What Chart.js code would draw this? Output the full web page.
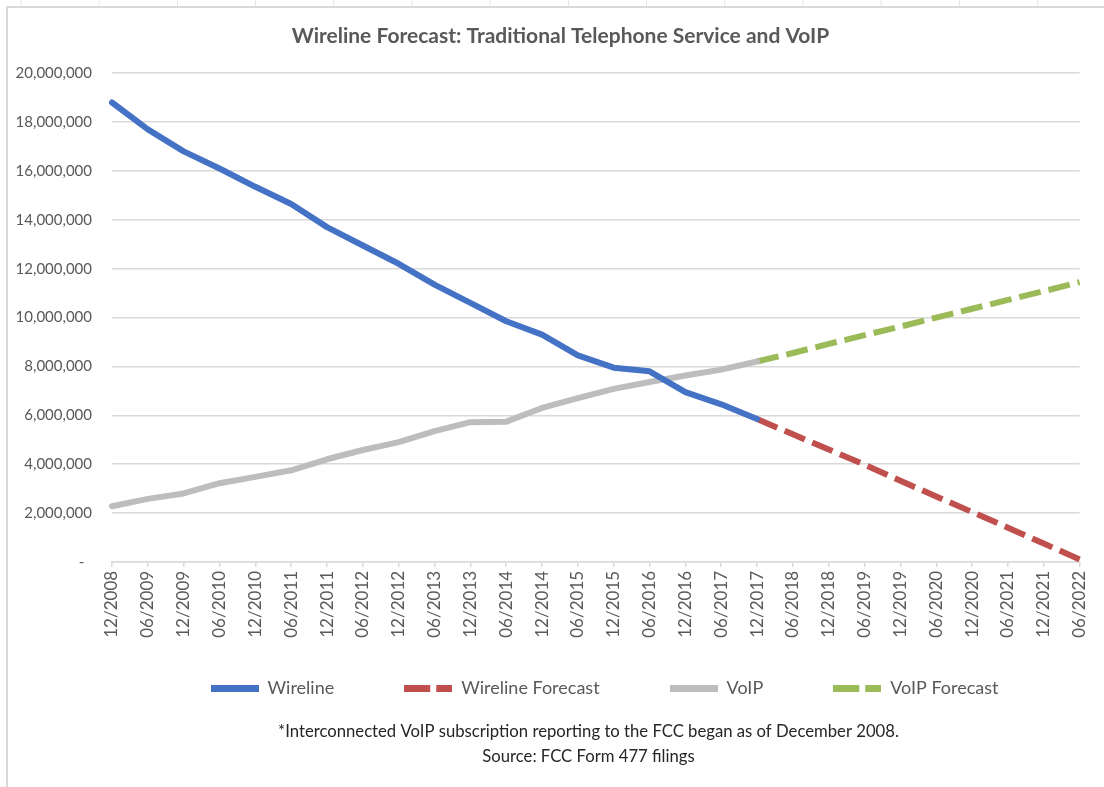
<!DOCTYPE html>
<html>
<head>
<meta charset="utf-8">
<script src="https://cdn.jsdelivr.net/npm/chart.js@4.4.1/dist/chart.umd.min.js"></script>
<style>
  html, body { margin: 0; padding: 0; background: #fff; }
</style>
</head>
<body>
<canvas id="chart" width="1104" height="787"></canvas>
<script>
// half-year periods on the x axis
const periods = ['12/2008','06/2009','12/2009','06/2010','12/2010','06/2011','12/2011','06/2012',
  '12/2012','06/2013','12/2013','06/2014','12/2014','06/2015','12/2015','06/2016','12/2016',
  '06/2017','12/2017','06/2018','12/2018','06/2019','12/2019','06/2020','12/2020','06/2021',
  '12/2021','06/2022'];

// actuals 12/2008 .. 12/2017
const wireline = [18800000, 17700000, 16800000, 16100000, 15350000, 14650000, 13700000, 12950000,
  12200000, 11350000, 10600000, 9850000, 9300000, 8450000, 7950000, 7800000, 6950000, 6450000, 5850000];
const voip = [2280000, 2580000, 2800000, 3220000, 3480000, 3750000, 4200000, 4580000, 4900000,
  5350000, 5720000, 5740000, 6300000, 6700000, 7080000, 7360000, 7630000, 7870000, 8200000];

// forecasts 12/2017 .. 06/2022
const wirelineForecast = [5850000, 5220000, 4600000, 3980000, 3320000, 2680000, 2040000, 1400000, 750000, 100000];
const voipForecast = [8200000, 8550000, 8920000, 9280000, 9630000, 10000000, 10360000, 10720000, 11080000, 11450000];

const yMax = 20000000;
const yStep = 2000000;

const textColor = '#595959';
const gridColor = '#d9d9d9';
const fontFamily = 'Lato, "Open Sans", sans-serif';

// pad forecast series so they start at the last actual period
const lead = new Array(wireline.length - 1).fill(null);
const pad = (arr) => arr.concat(new Array(periods.length - arr.length).fill(null));

// little line samples used as legend markers
function sample(color, dashed) {
  const c = document.createElement('canvas');
  c.width = 48; c.height = 7;
  const g = c.getContext('2d');
  g.fillStyle = color;
  if (dashed) {
    g.fillRect(0, 0, 26, 7);
    g.fillRect(32, 0, 16, 7);
  } else {
    g.fillRect(0, 0, 48, 7);
  }
  return c;
}

const series = [
  { label: 'Wireline', data: pad(wireline), color: '#4472c4', dash: [] },
  { label: 'Wireline Forecast', data: lead.concat(wirelineForecast), color: '#c0504d', dash: [22, 8] },
  { label: 'VoIP', data: pad(voip), color: '#bdbdbd', dash: [] },
  { label: 'VoIP Forecast', data: lead.concat(voipForecast), color: '#9bbb59', dash: [22, 8] }
];
const markers = series.map(s => sample(s.color, s.dash.length > 0));

// sheet frame + nudging the text boxes to where excel put them
const framePlugin = {
  id: 'frame',
  afterLayout(chart) {
    const move = (box, dx, top) => {
      const h = box.bottom - box.top;
      box.left += dx; box.right += dx;
      if (top !== undefined) { box.top = top; box.bottom = top + h; }
    };
    move(chart.titleBlock, 16);
    move(chart.legend, 60, 609);
    const sub = chart.boxes.find(b => b !== chart.titleBlock && b.options && Array.isArray(b.options.text));
    if (sub) move(sub, 44, 719);
  },
  beforeDraw(chart) {
    const ctx = chart.ctx;
    ctx.save();
    ctx.fillStyle = '#fff';
    ctx.fillRect(0, 0, chart.width, chart.height);
    ctx.strokeStyle = '#e6e6e6';
    ctx.lineWidth = 1;
    for (let x = 21; x < chart.width; x += 78.2) {
      ctx.beginPath(); ctx.moveTo(x, 0); ctx.lineTo(x, 6); ctx.stroke();
    }
    ctx.strokeStyle = gridColor;
    ctx.lineWidth = 2;
    ctx.beginPath();
    ctx.moveTo(7, chart.height); ctx.lineTo(7, 7); ctx.lineTo(chart.width, 7);
    ctx.stroke();
    ctx.restore();
  }
};

new Chart(document.getElementById('chart'), {
  type: 'line',
  data: {
    labels: periods,
    datasets: series.map(s => ({
      label: s.label,
      data: s.data,
      borderColor: s.color,
      backgroundColor: s.color,
      borderWidth: 6,
      borderDash: s.dash,
      borderJoinStyle: 'round',
      borderCapStyle: s.dash.length ? 'butt' : 'round',
      pointRadius: 0,
      tension: 0,
      spanGaps: false
    }))
  },
  options: {
    responsive: false,
    animation: false,
    layout: { padding: { left: 0, right: 15, top: 0, bottom: 0 } },
    plugins: {
      title: {
        display: true,
        text: 'Wireline Forecast: Traditional Telephone Service and VoIP',
        color: textColor,
        font: { family: fontFamily, size: 21, weight: 'bold' },
        padding: { top: 24, bottom: 24 }
      },
      subtitle: {
        display: true,
        position: 'bottom',
        text: ['*Interconnected VoIP subscription reporting to the FCC began as of December 2008.',
               'Source: FCC Form 477 filings'],
        color: '#262626',
        font: { family: fontFamily, size: 16.7, lineHeight: 1.5 },
        padding: 0
      },
      legend: {
        position: 'bottom',
        labels: {
          usePointStyle: true,
          pointStyleWidth: 48,
          padding: 70,
          color: textColor,
          font: { family: fontFamily, size: 18 },
          generateLabels(chart) {
            const items = Chart.defaults.plugins.legend.labels.generateLabels(chart);
            items.forEach((it, i) => { it.pointStyle = markers[i]; });
            return items;
          }
        }
      },
      tooltip: { enabled: false }
    },
    scales: {
      x: {
        afterFit(scale) { scale.height = 77; },
        grid: { drawOnChartArea: false, color: gridColor, tickLength: 5, lineWidth: 1.5 },
        border: { display: true, color: gridColor, width: 1.5 },
        ticks: {
          autoSkip: false, maxRotation: 90, minRotation: 90, padding: 4,
          color: textColor, font: { family: fontFamily, size: 17 }
        }
      },
      y: {
        min: 0, max: yMax,
        afterFit(scale) { scale.width = 112; },
        grid: { color: gridColor, lineWidth: 1.5, drawTicks: false },
        border: { display: false },
        ticks: {
          stepSize: yStep, padding: 20,
          color: textColor, font: { family: fontFamily, size: 15 },
          callback: v => v === 0 ? '-  ' : v.toLocaleString('en-US')
        }
      }
    }
  },
  plugins: [framePlugin]
});
</script>
</body>
</html>
